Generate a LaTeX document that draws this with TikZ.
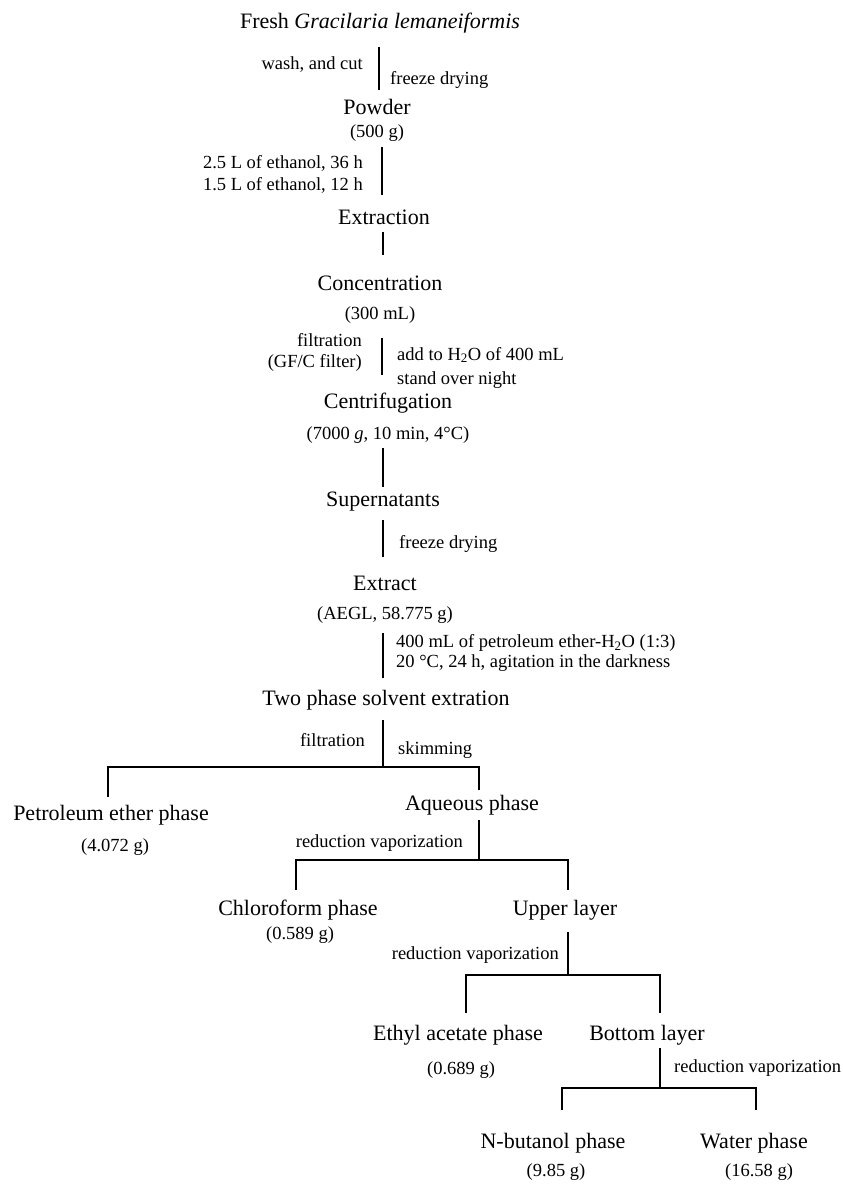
\documentclass[tikz,border=0pt]{standalone}
\usepackage{fontspec}
\setmainfont{Liberation Serif}
\begin{document}
\begin{tikzpicture}[x=1pt,y=-1pt,
  big/.style={font=\fontsize{22}{26}\selectfont, inner sep=0pt},
  lab/.style={font=\fontsize{18.5}{22}\selectfont, inner sep=0pt},
  ln/.style={line width=1.8pt}]
\useasboundingbox (0,0) rectangle (843,1184);
% main column nodes
\node[big] (fresh) at (380,23) {Fresh \textit{Gracilaria lemaneiformis}};
\node[big] (powder) at (377,107) {Powder};
\node[lab] (p500) at (377,133) {(500 g)};
\node[big] (extraction) at (384,217) {Extraction};
\node[big] (conc) at (380,283) {Concentration};
\node[lab] (c300) at (380,315) {(300 mL)};
\node[big] (centri) at (388,403) {Centrifugation};
\node[lab] (c7000) at (388,435) {(7000 \textit{g}, 10 min, 4°C)};
\node[big] (super) at (383,502) {Supernatants};
\node[big] (extract) at (385,583) {Extract};
\node[lab] (aegl) at (385,615) {(AEGL, 58.775 g)};
\node[big] (twophase) at (386,700) {Two phase solvent extration};
\node[big] (pet) at (111,815) {Petroleum ether phase};
\node[lab] (pet2) at (115,847) {(4.072 g)};
\node[big] (aq) at (472,805) {Aqueous phase};
\node[big] (chl) at (298,910) {Chloroform phase};
\node[lab] (chl2) at (300,935) {(0.589 g)};
\node[big] (upper) at (565,910) {Upper layer};
\node[big] (ethyl) at (458,1035) {Ethyl acetate phase};
\node[lab] (ethyl2) at (461,1070) {(0.689 g)};
\node[big] (bottom) at (647,1035) {Bottom layer};
\node[big] (nbut) at (553,1143) {N-butanol phase};
\node[lab] (nbut2) at (556,1172) {(9.85 g)};
\node[big] (water) at (754,1143) {Water phase};
\node[lab] (water2) at (759,1172) {(16.58 g)};
% step labels
\node[lab,anchor=east] (l1a) at (363,65) {wash, and cut};
\node[lab,anchor=west] (l1b) at (390,80) {freeze drying};
\node[lab,anchor=east] (l2a) at (363,163) {2.5 L of ethanol, 36 h};
\node[lab,anchor=east] (l2b) at (363,185) {1.5 L of ethanol, 12 h};
\node[lab,anchor=east] (l4a) at (362,340) {filtration};
\node[lab,anchor=east] (l4b) at (362,363) {(GF/C filter)};
\node[lab,anchor=west] (l4c) at (397,355) {add to H\textsubscript{2}O of 400 mL};
\node[lab,anchor=west] (l4d) at (397,380) {stand over night};
\node[lab,anchor=west] (l6) at (399,544) {freeze drying};
\node[lab,anchor=west] (l7a) at (396,643) {400 mL of petroleum ether-H\textsubscript{2}O (1:3)};
\node[lab,anchor=west] (l7b) at (396,663) {20 °C, 24 h, agitation in the darkness};
\node[lab,anchor=east] (l8a) at (365,740) {filtration};
\node[lab,anchor=west] (l8b) at (398,750) {skimming};
\node[lab,anchor=east] (l9) at (463,843) {reduction vaporization};
\node[lab,anchor=east] (l10) at (559,955) {reduction vaporization};
\node[lab,anchor=west] (l11) at (674,1068) {reduction vaporization};
% connector coordinates
\coordinate (a1) at (379,47);  \coordinate (b1) at (379,90);
\coordinate (a2) at (382,147); \coordinate (b2) at (382,195);
\coordinate (a3) at (383,232); \coordinate (b3) at (383,255);
\coordinate (a4) at (382,338); \coordinate (b4) at (382,375);
\coordinate (a5) at (383,448); \coordinate (b5) at (383,487);
\coordinate (a6) at (383,520); \coordinate (b6) at (383,557);
\coordinate (a7) at (383,633); \coordinate (b7) at (383,678);
\coordinate (a8) at (383,720); \coordinate (b8) at (383,767);
\coordinate (s8l) at (108,767); \coordinate (e8l) at (108,797);
\coordinate (s8r) at (479,767); \coordinate (e8r) at (479,790);
\coordinate (a9) at (479,820); \coordinate (b9) at (479,860);
\coordinate (s9l) at (296,860); \coordinate (e9l) at (296,890);
\coordinate (s9r) at (568,860); \coordinate (e9r) at (568,890);
\coordinate (a10) at (568,932); \coordinate (b10) at (568,975);
\coordinate (s10l) at (466,975); \coordinate (e10l) at (466,1013);
\coordinate (s10r) at (660,975); \coordinate (e10r) at (660,1013);
\coordinate (a11) at (660,1048); \coordinate (b11) at (660,1088);
\coordinate (s11l) at (562,1088); \coordinate (e11l) at (562,1110);
\coordinate (s11r) at (756,1088); \coordinate (e11r) at (756,1110);
% connectors
\draw[ln] (a1) -- (b1);
\draw[ln] (a2) -- (b2);
\draw[ln] (a3) -- (b3);
\draw[ln] (a4) -- (b4);
\draw[ln] (a5) -- (b5);
\draw[ln] (a6) -- (b6);
\draw[ln] (a7) -- (b7);
\draw[ln] (a8) -- (b8);
\draw[ln] (e8l) -- (s8l) -- (s8r) -- (e8r);
\draw[ln] (a9) -- (b9);
\draw[ln] (e9l) -- (s9l) -- (s9r) -- (e9r);
\draw[ln] (a10) -- (b10);
\draw[ln] (e10l) -- (s10l) -- (s10r) -- (e10r);
\draw[ln] (a11) -- (b11);
\draw[ln] (e11l) -- (s11l) -- (s11r) -- (e11r);
\end{tikzpicture}
\end{document}
